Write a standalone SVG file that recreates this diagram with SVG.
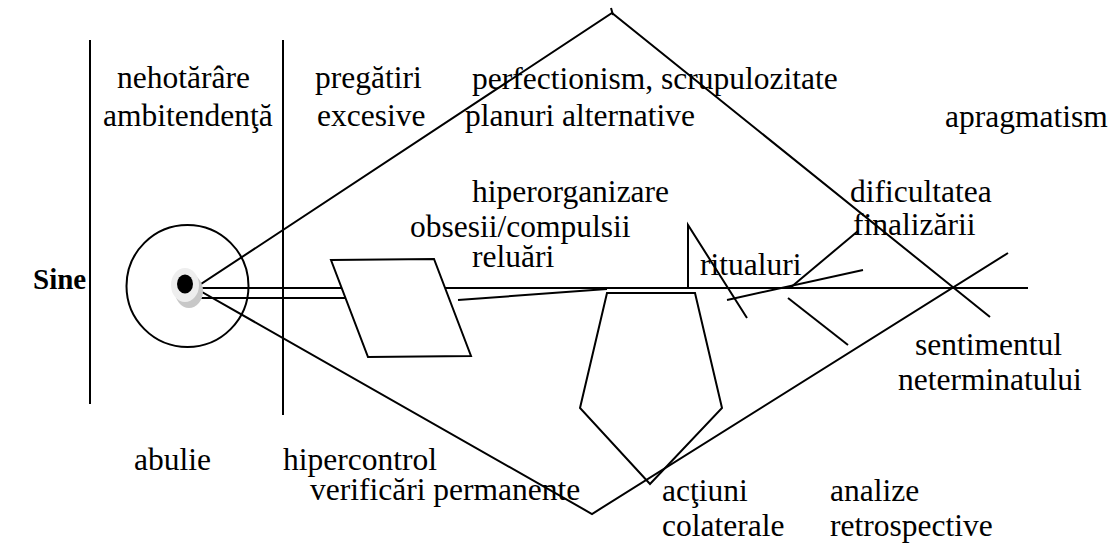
<svg xmlns="http://www.w3.org/2000/svg" width="1111" height="546" viewBox="0 0 1111 546">
<style>
.l{stroke:#000;stroke-width:2;fill:none}
text{font-family:'Liberation Serif','Times New Roman',serif;font-size:31.5px;fill:#000}
.b{font-weight:bold;font-size:29px}
</style>
<rect width="1111" height="546" fill="#fff"/>
<g id="connectors">
<line class="l" x1="90" y1="40" x2="90" y2="404"/>
<line class="l" x1="283" y1="40" x2="283" y2="415"/>
<line class="l" x1="195" y1="288" x2="1028" y2="288"/>
<line class="l" x1="195" y1="298" x2="352" y2="298"/>
<line class="l" x1="458" y1="300" x2="607" y2="289"/>
<polyline class="l" points="990,317 612,13 195,288 592,514 1008,253"/>
<line class="l" x1="611" y1="8" x2="613" y2="15"/>
<polyline class="l" points="688,288 688,225 747,318"/>
<line class="l" x1="727" y1="300" x2="863" y2="270"/>
<line class="l" x1="790" y1="288" x2="858" y2="231"/>
<line class="l" x1="788" y1="298" x2="848" y2="345"/>
</g>
<g id="circle">
<circle class="l" cx="187.5" cy="286" r="61"/>
</g>
<g id="dot">
<ellipse cx="189" cy="291" rx="14" ry="17" fill="#c8c8c8"/>
<ellipse cx="185" cy="285" rx="14" ry="17" fill="#eee"/>
<ellipse cx="185" cy="284" rx="8" ry="9.5" fill="#000"/>
</g>
<g id="parallelogram">
<polygon class="l" points="331,260 434,259 471,356 368,357" style="fill:#fff"/>
</g>
<g id="pentagon">
<polygon class="l" points="607,293 695,293 722,408 650,484 580,408"/>
</g>
<g id="labels">
<text class="b" x="33" y="289">Sine</text>
<text x="117" y="88">nehotărâre</text>
<text x="103" y="126">ambitendenţă</text>
<text x="315" y="88">pregătiri</text>
<text x="317" y="126">excesive</text>
<text x="472" y="89">perfectionism, scrupulozitate</text>
<text x="465" y="126">planuri alternative</text>
<text x="945" y="127">apragmatism</text>
<text x="472" y="202">hiperorganizare</text>
<text x="410" y="237">obsesii/compulsii</text>
<text x="472" y="267">reluări</text>
<text x="700" y="275">ritualuri</text>
<text x="850" y="202">dificultatea</text>
<text x="853" y="235">finalizării</text>
<text x="915" y="355">sentimentul</text>
<text x="898" y="390">neterminatului</text>
<text x="134" y="470">abulie</text>
<text x="283" y="470">hipercontrol</text>
<text x="310" y="500">verificări permanente</text>
<text x="662" y="501">acţiuni</text>
<text x="662" y="536">colaterale</text>
<text x="830" y="501">analize</text>
<text x="830" y="536">retrospective</text>
</g>
</svg>
